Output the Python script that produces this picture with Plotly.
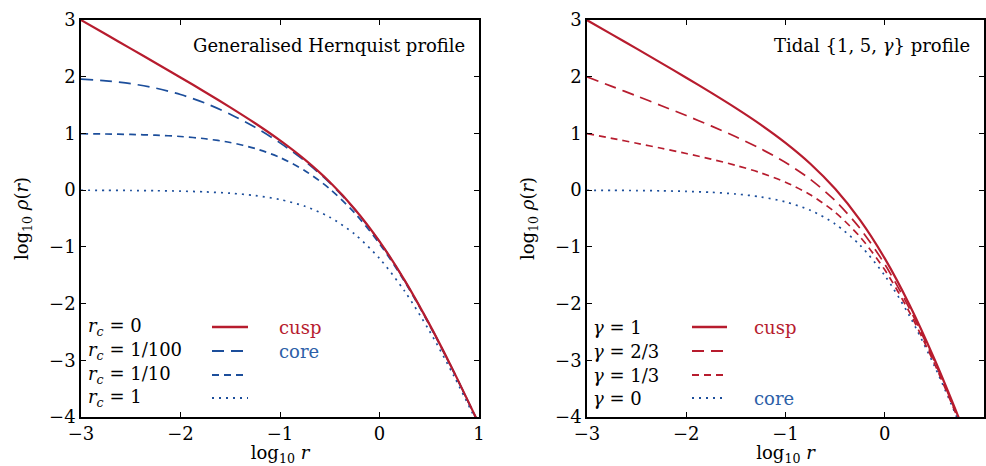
import plotly.graph_objects as go

# log10 r sample points shared by every curve
log_r = [-3.0, -2.75, -2.5, -2.25, -2.0, -1.75, -1.5, -1.25, -1.0,
         -0.75, -0.5, -0.25, 0.0, 0.25, 0.5, 0.75, 1.0]

# Generalised Hernquist profile, log10 rho for each core radius r_c
hern_rc_0 = [2.999, 2.748, 2.496, 2.243, 1.987, 1.727, 1.459, 1.179, 0.876,
             0.537, 0.142, -0.331, -0.903, -1.581, -2.358, -3.213, -4.124]
hern_rc_100 = [1.957, 1.927, 1.877, 1.799, 1.686, 1.533, 1.340, 1.108, 0.834,
               0.513, 0.128, -0.339, -0.907, -1.584, -2.359, -3.214, -4.125]
hern_rc_10 = [0.994, 0.990, 0.982, 0.969, 0.946, 0.906, 0.840, 0.735, 0.575,
              0.343, 0.023, -0.402, -0.944, -1.605, -2.372, -3.221, -4.129]
hern_rc_1 = [-0.002, -0.003, -0.006, -0.010, -0.017, -0.031, -0.054, -0.095, -0.166,
             -0.284, -0.477, -0.775, -1.204, -1.775, -2.477, -3.284, -4.166]

# Tidal {1,5,gamma} profile, log10 rho for each inner slope gamma
tidal_g1 = [2.998, 2.747, 2.495, 2.240, 1.983, 1.719, 1.446, 1.155, 0.834,
            0.466, 0.023, -0.525, -1.204, -2.025, -2.977, -4.034, -5.166]
tidal_g23 = [1.998, 1.830, 1.661, 1.489, 1.315, 1.133, 0.941, 0.730, 0.487,
             0.192, -0.184, -0.673, -1.304, -2.090, -3.017, -4.058, -5.179]
tidal_g13 = [0.998, 0.913, 0.827, 0.739, 0.646, 0.548, 0.437, 0.306, 0.140,
             -0.082, -0.390, -0.821, -1.405, -2.154, -3.057, -4.082, -5.193]
tidal_g0 = [-0.002, -0.004, -0.007, -0.012, -0.022, -0.038, -0.068, -0.119, -0.207,
            -0.355, -0.597, -0.969, -1.505, -2.219, -3.097, -4.105, -5.207]

tick_vals = [-3, -2, -1, 0, 1]
ytick_vals = [-4, -3, -2, -1, 0, 1, 2, 3]

RED = "#b71c2e"
BLUE = "#1c4e9b"
BLUE_TXT = "#2d5fa8"
FONT = "DejaVu Serif"
FS = 18

LONG = "12px,7px"
SHORT = "7px,5px"
DOT = "2px,5px"

left_series = [
    ("r_c = 0", hern_rc_0, RED, "solid", 2.2),
    ("r_c = 1/100", hern_rc_100, BLUE, LONG, 1.7),
    ("r_c = 1/10", hern_rc_10, BLUE, SHORT, 1.7),
    ("r_c = 1", hern_rc_1, BLUE, DOT, 1.7),
]
right_series = [
    ("γ = 1", tidal_g1, RED, "solid", 2.2),
    ("γ = 2/3", tidal_g23, RED, LONG, 1.7),
    ("γ = 1/3", tidal_g13, RED, SHORT, 1.7),
    ("γ = 0", tidal_g0, BLUE, DOT, 1.7),
]

fig = go.Figure()

# draw the solid cusp curve last so it sits on top
for series, xa, ya in ((left_series, "x", "y"), (right_series, "x2", "y2")):
    for name, vals, color, dash, width in reversed(series):
        fig.add_trace(go.Scatter(
            x=log_r, y=vals, mode="lines", name=name,
            line=dict(color=color, dash=dash, width=width, shape="spline", smoothing=0.8),
            xaxis=xa, yaxis=ya, showlegend=False, hoverinfo="skip",
        ))

axis_common = dict(
    showgrid=False, zeroline=False, ticks="inside", ticklen=5, tickwidth=1,
    tickcolor="black", showline=True, linecolor="black", linewidth=1.5,
    mirror="ticks", automargin=False,
    tickfont=dict(family=FONT, size=FS, color="black"),
)

xdom_l = [81 / 986, 479 / 986]
xdom_r = [587 / 986, 984 / 986]
ydom = [1 - 417 / 466, 1 - 20 / 466]

xtitle = dict(text="log<sub>10</sub> <i>r</i>", font=dict(family=FONT, size=FS, color="black"),
              standoff=6)
ytitle = dict(text="log<sub>10</sub> <i>ρ</i>(<i>r</i>)", font=dict(family=FONT, size=FS, color="black"),
              standoff=16)

fig.update_layout(
    width=986, height=466, margin=dict(l=0, r=0, t=0, b=0),
    paper_bgcolor="white", plot_bgcolor="white",
    xaxis=dict(domain=xdom_l, range=[-3, 1], tickvals=tick_vals, anchor="y",
               title=xtitle, **axis_common),
    yaxis=dict(domain=ydom, range=[-4, 3], tickvals=ytick_vals, anchor="x",
               title=ytitle, **axis_common),
    xaxis2=dict(domain=xdom_r, range=[-3, 1], tickvals=tick_vals, anchor="y2",
                title=xtitle, **axis_common),
    yaxis2=dict(domain=ydom, range=[-4, 3], tickvals=ytick_vals, anchor="x2",
                title=ytitle, **axis_common),
)

annotations = []
shapes = []


def panel_title(text, xref, yref):
    annotations.append(dict(
        text=text, xref=xref, yref=yref, x=0.97, y=0.935,
        xanchor="right", yanchor="middle", showarrow=False,
        font=dict(family=FONT, size=FS, color="black"),
    ))


panel_title("Generalised Hernquist profile", "x domain", "y domain")
panel_title("Tidal {1, 5, <i>γ</i>} profile", "x2 domain", "y2 domain")

left_labels = ["<i>r<sub>c</sub></i> = 0", "<i>r<sub>c</sub></i> = 1/100",
               "<i>r<sub>c</sub></i> = 1/10", "<i>r<sub>c</sub></i> = 1"]
right_labels = ["<i>γ</i> = 1", "<i>γ</i> = 2/3", "<i>γ</i> = 1/3", "<i>γ</i> = 0"]

# legend rows (paper y of each row centre)
row_y = [1 - 327 / 466, 1 - 351 / 466, 1 - 375 / 466, 1 - 398 / 466]


def legend_block(series, labels, text_x, line_x0, line_x1, tags):
    for (name, vals, color, dash, width), label, yy in zip(series, labels, row_y):
        annotations.append(dict(
            text=label, xref="paper", yref="paper", x=text_x / 986, y=yy,
            xanchor="left", yanchor="middle", showarrow=False,
            font=dict(family=FONT, size=FS, color="black"),
        ))
        shapes.append(dict(
            type="line", xref="paper", yref="paper",
            x0=line_x0 / 986, x1=line_x1 / 986, y0=yy, y1=yy,
            line=dict(color=color, dash=dash, width=width + 0.3),
        ))
    for text, color, xx, row in tags:
        annotations.append(dict(
            text=text, xref="paper", yref="paper", x=xx / 986, y=row_y[row],
            xanchor="left", yanchor="middle", showarrow=False,
            font=dict(family=FONT, size=FS, color=color),
        ))


legend_block(left_series, left_labels, 86, 212, 248,
             [("cusp", RED, 277, 0), ("core", BLUE_TXT, 277, 1)])
legend_block(right_series, right_labels, 591, 692, 727,
             [("cusp", RED, 752, 0), ("core", BLUE_TXT, 752, 3)])

fig.update_layout(annotations=annotations, shapes=shapes)

fig.write_html("out.html")
